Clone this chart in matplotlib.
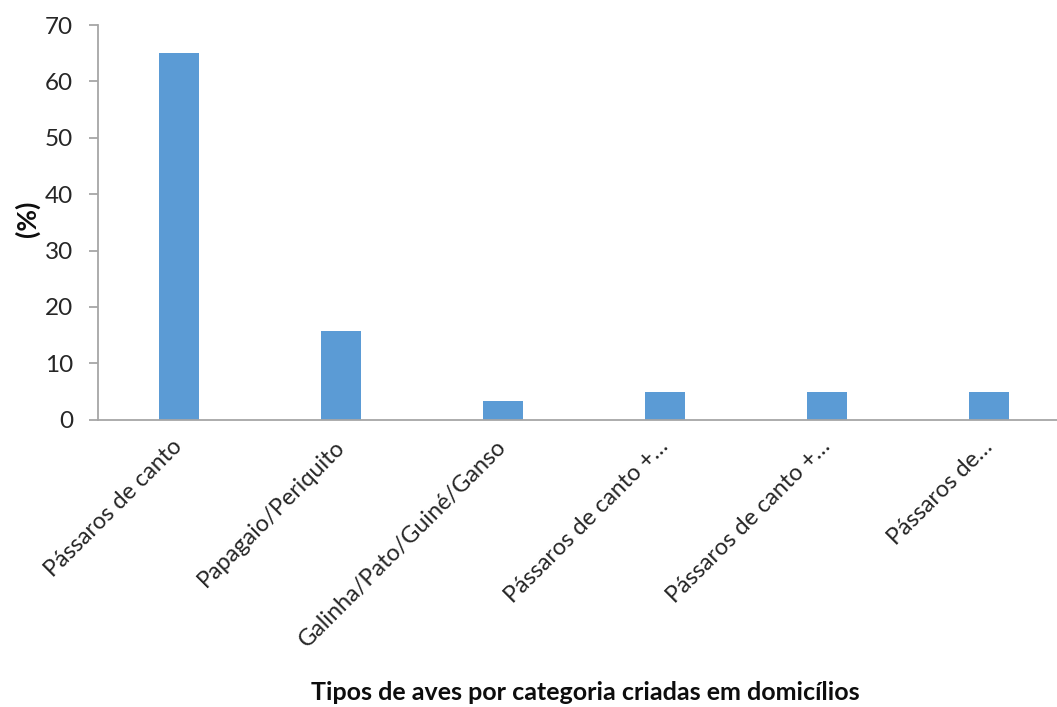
import matplotlib
matplotlib.use("Agg")
import matplotlib.pyplot as plt
from matplotlib.transforms import ScaledTranslation

# Bird types kept in households (%)
categories = [
    "Pássaros de canto",
    "Papagaio/Periquito",
    "Galinha/Pato/Guiné/Ganso",
    "Pássaros de canto +…",
    "Pássaros de canto +…",
    "Pássaros de…",
]
percent = [65.0, 15.8, 3.4, 5.0, 5.0, 5.0]
y_ticks = [0, 10, 20, 30, 40, 50, 60, 70]

plt.rcParams["font.family"] = ["Lato", "DejaVu Sans"]

W, H = 1057, 707
fig = plt.figure(figsize=(W / 100, H / 100), dpi=100)
ax = fig.add_axes([98 / W, 1 - 419.7 / H, 972 / W, 394.7 / H])

x = list(range(len(categories)))
ax.bar(x, percent, width=0.25, color="#5B9BD5", zorder=2)

ax.set_xlim(-0.5, len(categories) - 0.5)
ax.set_ylim(0, 70)
ax.set_yticks(y_ticks)
ax.set_yticklabels([str(v) for v in y_ticks], fontsize=17.5, color="#262626")
ax.set_xticks(x)
ax.set_xticklabels(categories, rotation=45, ha="right", va="center",
                   rotation_mode="anchor", fontsize=16.8, color="#262626")

# nudge the slanted category labels slightly left
shift = ScaledTranslation(-12 / 100, 0, fig.dpi_scale_trans)
for lab in ax.get_xticklabels():
    lab.set_transform(lab.get_transform() + shift)

for side in ("top", "right"):
    ax.spines[side].set_visible(False)
for side in ("left", "bottom"):
    ax.spines[side].set_color("#A6A6A6")
    ax.spines[side].set_linewidth(1.3)

ax.tick_params(axis="y", length=6.5, width=1.3, color="#A6A6A6", pad=11.5)
ax.tick_params(axis="x", length=0, pad=17)

fig.text(585 / W, 1 - 693 / H, "Tipos de aves por categoria criadas em domicílios",
         ha="center", va="center", fontsize=18, fontweight="bold", color="#0D0D0D")
fig.text(27 / W, 1 - 219 / H, "(%)", ha="center", va="center", rotation=90,
         fontsize=19, fontweight="bold", color="#0D0D0D")

fig.savefig("out.png", dpi=100, facecolor="white")
